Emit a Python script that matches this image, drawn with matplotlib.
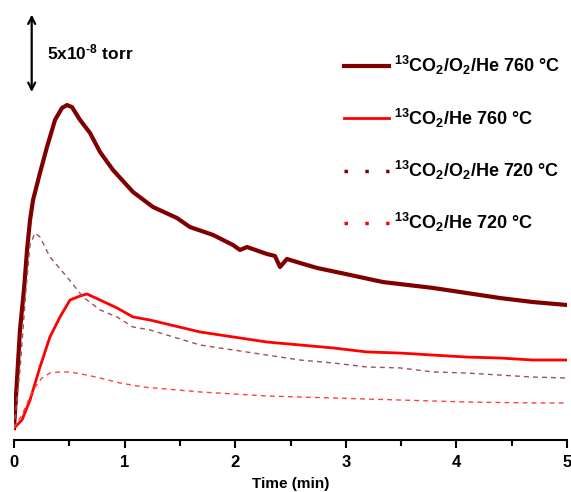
import matplotlib
matplotlib.use("Agg")
import matplotlib.pyplot as plt
from matplotlib.lines import Line2D
from matplotlib.ticker import MultipleLocator

plt.rcParams["font.family"] = ["Liberation Sans", "DejaVu Sans"]
plt.rcParams["font.weight"] = "bold"
plt.rcParams["mathtext.fontset"] = "custom"
plt.rcParams["mathtext.rm"] = "Liberation Sans:bold"
plt.rcParams["mathtext.default"] = "rm"

# 时间 (min) 与信号 (单位 1e-8 torr)
t_o2_760 = [0, 0.027, 0.054, 0.090, 0.118, 0.145, 0.172, 0.235, 0.298, 0.371, 0.434,
            0.479, 0.524, 0.597, 0.687, 0.778, 0.895, 1.076, 1.257, 1.474, 1.591,
            1.799, 1.980, 2.043, 2.107, 2.288, 2.360, 2.405, 2.468, 2.586, 2.740,
            3.038, 3.336, 3.788, 4.096, 4.394, 4.693, 5.0]
y_o2_760 = [0.77, 3.87, 7.10, 9.68, 12.26, 14.19, 15.48, 17.23, 18.90, 20.65, 21.42,
            21.61, 21.48, 20.65, 19.81, 18.58, 17.42, 16.00, 15.03, 14.32, 13.74,
            13.23, 12.58, 12.26, 12.45, 12.00, 11.87, 11.16, 11.68, 11.42, 11.10,
            10.65, 10.19, 9.81, 9.48, 9.16, 8.90, 8.71]

t_he_760 = [0, 0.072, 0.145, 0.235, 0.325, 0.416, 0.506, 0.597, 0.660, 0.778, 0.931,
            1.076, 1.230, 1.682, 1.980, 2.288, 2.586, 2.884, 3.192, 3.490, 3.788,
            4.096, 4.394, 4.693, 5.0]
y_he_760 = [0.77, 1.29, 2.58, 4.71, 6.65, 7.94, 9.03, 9.29, 9.42, 9.03, 8.52,
            7.94, 7.74, 6.97, 6.65, 6.32, 6.13, 5.94, 5.68, 5.61, 5.48,
            5.35, 5.29, 5.16, 5.16]

t_o2_720 = [0, 0.054, 0.108, 0.145, 0.190, 0.235, 0.325, 0.479, 0.624, 0.778, 0.931,
            1.076, 1.230, 1.682, 1.980, 2.288, 2.586, 2.884, 3.192, 3.490, 3.788,
            4.096, 4.394, 4.693, 5.0]
y_o2_720 = [0.77, 4.5, 9.68, 12.58, 13.35, 13.10, 11.81, 10.52, 9.23, 8.39, 7.94,
            7.29, 7.10, 6.13, 5.81, 5.48, 5.16, 4.97, 4.71, 4.65, 4.39,
            4.32, 4.19, 4.06, 4.0]

t_he_720 = [0, 0.072, 0.172, 0.253, 0.325, 0.416, 0.506, 0.660, 0.778, 0.958, 1.166,
            1.682, 2.288, 2.884, 3.490, 4.096, 4.693, 5.0]
y_he_720 = [0.77, 1.61, 3.23, 4.0, 4.32, 4.39, 4.39, 4.19, 4.0, 3.68, 3.42,
            3.10, 2.84, 2.71, 2.58, 2.45, 2.39, 2.39]

标签 = [r"$^{13}$CO$_2$/O$_2$/He 760 °C",
        r"$^{13}$CO$_2$/He 760 °C",
        r"$^{13}$CO$_2$/O$_2$/He 720 °C",
        r"$^{13}$CO$_2$/He 720 °C"]

暗红, 红 = "#800000", "#ff0000"

fig = plt.figure(figsize=(5.71, 4.92), dpi=100)
ax = fig.add_axes([14 / 571, 1 - 440 / 492, 553 / 571, 432 / 492])

ax.plot(t_o2_760, y_o2_760, color=暗红, lw=3.0, solid_joinstyle="round")
ax.plot(t_he_760, y_he_760, color=红, lw=2.0)
ax.plot(t_o2_720, y_o2_720, color="#a05050", lw=1.0, ls=(0, (3.5, 3)))
ax.plot(t_he_720, y_he_720, color="#ff4040", lw=1.0, ls=(0, (3.5, 3)))

ax.set_xlim(0, 5)
ax.set_ylim(0, 432 / 15.5)
for s in ("left", "right", "top"):
    ax.spines[s].set_visible(False)
ax.spines["bottom"].set_linewidth(1.5)
ax.set_yticks([])
ax.xaxis.set_major_locator(MultipleLocator(1))
ax.xaxis.set_minor_locator(MultipleLocator(0.5))
ax.tick_params(axis="x", which="major", length=6, width=1.5, labelsize=12, pad=5)
ax.tick_params(axis="x", which="minor", length=4, width=1.5)
ax.set_xlabel("Time (min)", fontsize=11, fontweight="bold", labelpad=5)

# 5x10^-8 torr 标尺
ax.annotate("", xy=(0.16, 27.45), xytext=(0.16, 22.45),
            arrowprops=dict(arrowstyle="<->,head_length=0.5,head_width=0.25",
                            color="black", lw=1.6, shrinkA=0, shrinkB=0),
            annotation_clip=False)
ax.text(0.30, 25.0, r"5x10$^{\text{-}8}$ torr", fontsize=12.5, fontweight="bold",
        va="center", ha="left")

句柄 = [Line2D([], [], color=暗红, lw=3.0),
        Line2D([], [], color=红, lw=2.0),
        Line2D([], [], color=暗红, lw=2.5, ls=(0, (1, 5))),
        Line2D([], [], color=红, lw=2.5, ls=(0, (1, 5)))]
ax.legend(句柄, 标签, loc="upper left", bbox_to_anchor=(314 / 553, 1 - 30 / 432),
          frameon=False, fontsize=13, handlelength=2.5, handletextpad=0.28,
          labelspacing=1.62)

fig.savefig("out.png", dpi=100)
